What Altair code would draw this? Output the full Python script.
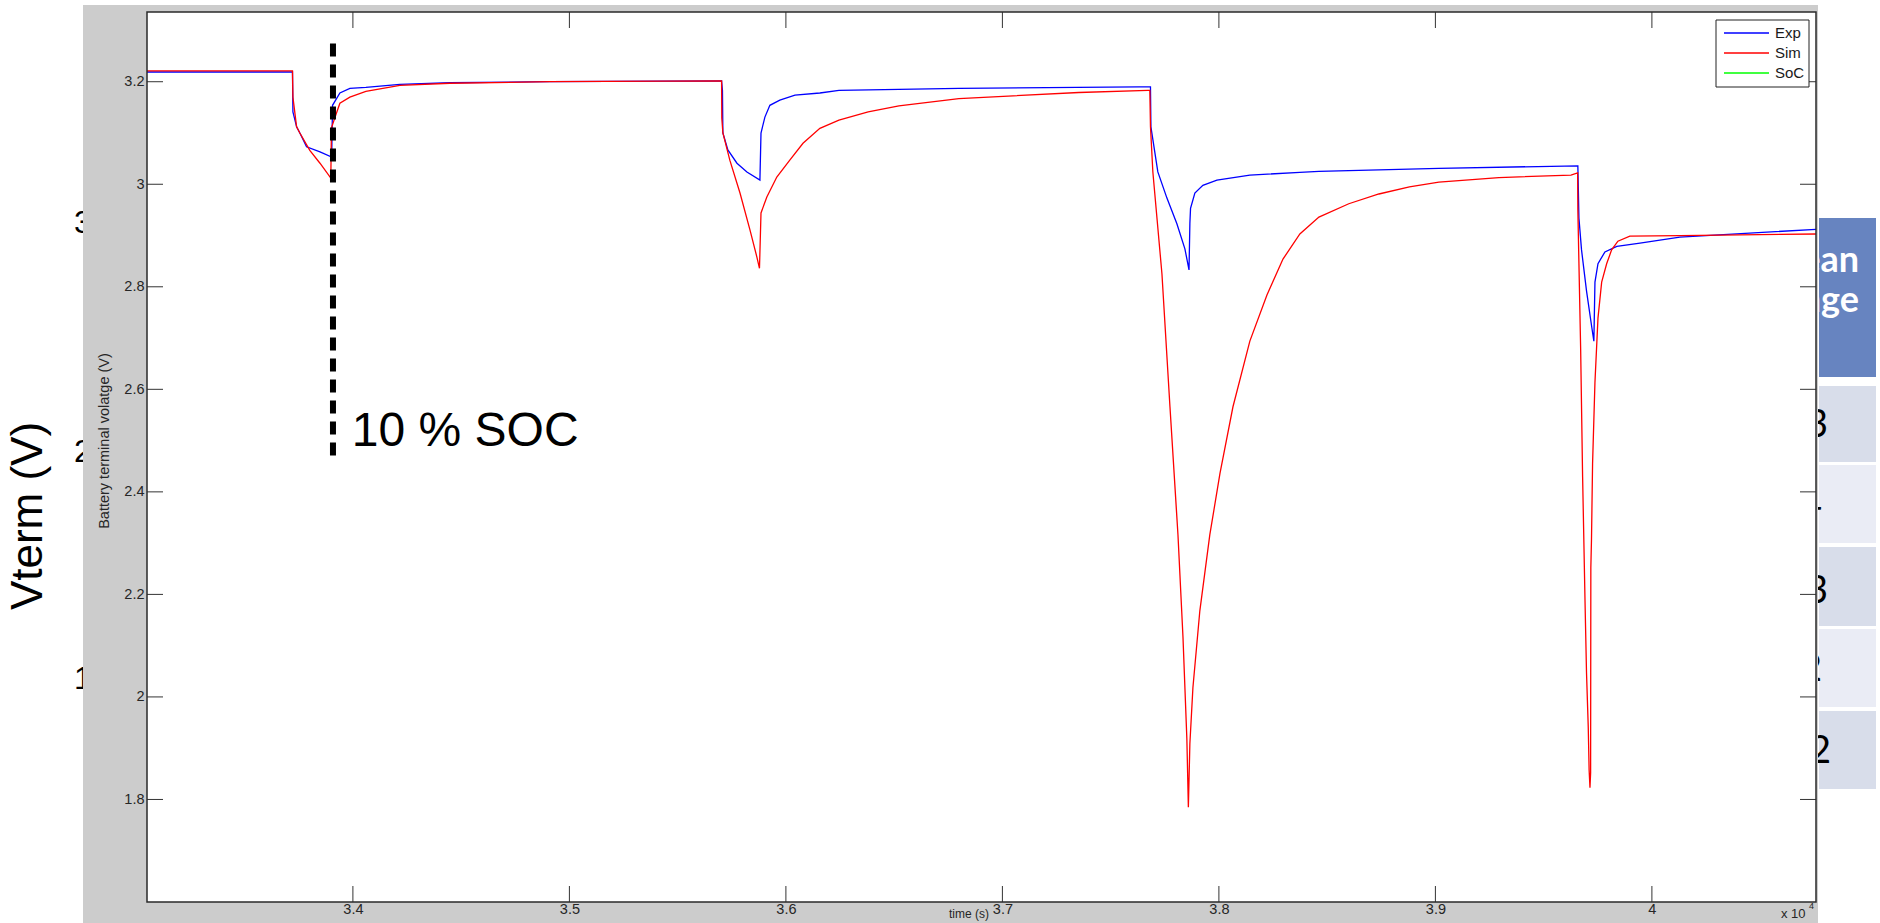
import altair as alt
import pandas as pd

# ---------------- data ----------------
sim_t = [33049, 33721, 33723, 33740, 33755, 33801, 33848, 33898, 33901, 33921,
         33940, 33986, 34060, 34217, 34448, 34910, 35703, 35704, 35709, 35741,
         35788, 35834, 35866, 35878, 35885, 35912, 35958, 36018, 36079, 36157,
         36245, 36380, 36522, 36799, 37353, 37672, 37681, 37684, 37695, 37737,
         37774, 37811, 37834, 37852, 37859, 37866, 37880, 37912, 37958, 38005,
         38065, 38143, 38222, 38296, 38374, 38462, 38600, 38739, 38880, 39016,
         39293, 39626, 39657, 39658, 39671, 39680, 39691, 39698, 39706, 39710,
         39714, 39717, 39718, 39721, 39726, 39737, 39751, 39768, 39791, 39814,
         39843, 39898, 40129, 40758]
sim_v = [3.221, 3.221, 3.170, 3.112, 3.100, 3.066, 3.041, 3.012, 3.110, 3.135,
         3.158, 3.170, 3.181, 3.193, 3.197, 3.200, 3.2015, 3.129, 3.100, 3.047,
         2.983, 2.911, 2.858, 2.836, 2.944, 2.975, 3.014, 3.047, 3.080, 3.109,
         3.125, 3.141, 3.153, 3.167, 3.179, 3.183, 3.183, 3.112, 3.024, 2.825,
         2.566, 2.316, 2.118, 1.919, 1.785, 1.909, 2.018, 2.168, 2.316, 2.436,
         2.566, 2.694, 2.784, 2.854, 2.903, 2.936, 2.962, 2.981, 2.995, 3.004,
         3.013, 3.018, 3.022, 2.951, 2.677, 2.429, 2.189, 2.047, 1.942, 1.858,
         1.823, 1.852, 2.252, 2.307, 2.455, 2.614, 2.739, 2.809, 2.845, 2.872,
         2.889, 2.899, 2.900, 2.903]

exp_t = [33049, 33721, 33723, 33740, 33755, 33786, 33848, 33902, 33906, 33940,
         33986, 34060, 34217, 34448, 34910, 35703, 35707, 35709, 35732, 35774,
         35820, 35880, 35885, 35903, 35926, 35972, 36042, 36157, 36245, 36799,
         37631, 37684, 37686, 37718, 37760, 37806, 37843, 37862, 37866, 37869,
         37889, 37926, 37991, 38143, 38374, 38462, 39016, 39658, 39663, 39675,
         39698, 39722, 39732, 39737, 39751, 39783, 39838, 39945, 40129, 40758]
exp_v = [3.219, 3.219, 3.141, 3.112, 3.100, 3.073, 3.063, 3.053, 3.154, 3.178,
         3.187, 3.189, 3.195, 3.198, 3.200, 3.2015, 3.183, 3.100, 3.067, 3.041,
         3.024, 3.008, 3.100, 3.131, 3.154, 3.164, 3.174, 3.178, 3.183, 3.187,
         3.190, 3.190, 3.112, 3.024, 2.973, 2.923, 2.874, 2.833, 2.924, 2.953,
         2.983, 2.998, 3.008, 3.018, 3.023, 3.025, 3.031, 3.036, 2.934, 2.872,
         2.792, 2.722, 2.694, 2.809, 2.845, 2.868, 2.879, 2.885, 2.897, 2.912]

x_ticks = [34000, 35000, 36000, 37000, 38000, 39000, 40000]
y_ticks = [1.8, 2.0, 2.2, 2.4, 2.6, 2.8, 3.0, 3.2]
x_domain = [33049, 40758]
y_domain = [1.6, 3.336]

series_names = ["Exp", "Sim", "SoC"]
series_colors = ["#0000FF", "#FF0000", "#00FF00"]

soc_marker_t = [33908]
soc_marker_top = [3.290]
soc_marker_bottom = [2.458]
soc_label = ["10 % SOC"]
soc_label_t = [33995]
soc_label_v = [2.490]

slide_digits = ["3", "2", "1"]
table_header = ["Mean", "Voltage"]
table_cells = ["3", "4", "3", "2", "2"]

# ---------------- layout ----------------
W, H = 1669, 890
FONT = "Liberation Sans"
one = pd.DataFrame({"d": [0]})

xs = alt.Scale(domain=x_domain, nice=False, zero=False)
ys = alt.Scale(domain=y_domain, nice=False, zero=False)
xaxis = alt.Axis(values=x_ticks, labelExpr="format(datum.value/10000, '.1~f')",
                 ticks=False, tickSize=0, domain=False, grid=False, title=None,
                 labelFont=FONT, labelFontSize=14.5, labelColor="#262626",
                 labelPadding=0, zindex=1)
yaxis = alt.Axis(values=y_ticks, labelExpr="format(datum.value, '.1~f')",
                 ticks=False, tickSize=0, domain=False, grid=False, title=None,
                 labelFont=FONT, labelFontSize=14.5, labelColor="#262626",
                 labelPadding=3, zindex=1)


def vrect(x, x2, y, y2, **kw):
    return alt.Chart(one).mark_rect(**kw).encode(
        x=alt.value(x), x2=alt.value(x2), y=alt.value(y), y2=alt.value(y2))


def vtext(txt, x, y, **kw):
    return alt.Chart(one).mark_text(text=txt, **kw).encode(
        x=alt.value(x), y=alt.value(y))


def vrule(x, x2, y, y2, **kw):
    return alt.Chart(one).mark_rule(**kw).encode(
        x=alt.value(x), x2=alt.value(x2), y=alt.value(y), y2=alt.value(y2))


layers = []

# slide content peeking out behind the MATLAB figure
for d, yb in zip(slide_digits, [221, 450, 677]):
    layers.append(vtext(d, -73, yb, font=FONT, fontSize=32, align="left",
                        baseline="alphabetic", color="black"))

# table on the right (partly hidden)
layers.append(vrect(1672, 1729, 206, 365, color="#6784C0"))
row_bounds = [(374, 450), (453, 531), (535, 614), (617, 695), (699, 777)]
row_cols = ["#D8DDEA", "#EAECF5", "#D8DDEA", "#EAECF5", "#D8DDEA"]
for (a, b), c in zip(row_bounds, row_cols):
    layers.append(vrect(1672, 1729, a, b, color=c))
layers.append(vtext(table_header[0], 1712, 260, font="Lato", fontSize=36,
                    fontWeight="bold", align="right", baseline="alphabetic",
                    color="white"))
layers.append(vtext(table_header[1], 1712, 300, font="Lato", fontSize=36,
                    fontWeight="bold", align="right", baseline="alphabetic",
                    color="white"))
for txt, xr, yb in zip(table_cells, [1681, 1675, 1681, 1675, 1684],
                       [425, 505, 591, 669, 751]):
    layers.append(vtext(txt, xr, yb, font="Lato", fontSize=38, align="right",
                        baseline="alphabetic", color="black"))

# big slide label
layers.append(vtext("Vterm (V)", -105, 504, font=FONT, fontSize=44, angle=270,
                    align="center", baseline="alphabetic", color="black"))

# grey figure background and white axes area
layers.append(vrect(-64, 1671, -7, 911, color="#CCCCCC"))
layers.append(vrect(0, W, 0, H, color="white"))

# inward ticks on all four sides
ytick_df = pd.DataFrame({"v": y_ticks})
xtick_df = pd.DataFrame({"t": x_ticks})
Y = alt.Y("v:Q", scale=ys, axis=yaxis)
X = alt.X("t:Q", scale=xs, axis=xaxis)
layers.append(alt.Chart(ytick_df).mark_rule(color="#333333", strokeWidth=1)
              .encode(x=alt.value(0), x2=alt.value(16), y=Y))
layers.append(alt.Chart(ytick_df).mark_rule(color="#333333", strokeWidth=1)
              .encode(x=alt.value(W - 16), x2=alt.value(W), y=Y))
layers.append(alt.Chart(xtick_df).mark_rule(color="#333333", strokeWidth=1)
              .encode(y=alt.value(H - 16), y2=alt.value(H), x=X))
layers.append(alt.Chart(xtick_df).mark_rule(color="#333333", strokeWidth=1)
              .encode(y=alt.value(0), y2=alt.value(16), x=X))

# data lines
exp_df = pd.DataFrame({"t": exp_t, "v": exp_v, "i": range(len(exp_t))})
sim_df = pd.DataFrame({"t": sim_t, "v": sim_v, "i": range(len(sim_t))})
layers.append(alt.Chart(exp_df).mark_line(color=series_colors[0], strokeWidth=1.3)
              .encode(x=X, y=Y, order="i:Q"))
layers.append(alt.Chart(sim_df).mark_line(color=series_colors[1], strokeWidth=1.3)
              .encode(x=X, y=Y, order="i:Q"))

# 10 % SOC marker
soc_df = pd.DataFrame({"t": soc_marker_t, "v": soc_marker_top,
                       "v2": soc_marker_bottom})
layers.append(alt.Chart(soc_df).mark_rule(color="black", strokeWidth=6,
                                          strokeDash=[13, 8], strokeDashOffset=13,
                                          strokeCap="butt")
              .encode(x=X, y=Y, y2="v2:Q"))
lab_df = pd.DataFrame({"t": soc_label_t, "v": soc_label_v, "s": soc_label})
layers.append(alt.Chart(lab_df).mark_text(font=FONT, fontSize=48, align="left",
                                          baseline="alphabetic", color="black")
              .encode(x=X, y=Y, text="s:N"))

# axes box
layers.append(vrect(0, W, 0, H, fillOpacity=0, stroke="#2a2a2a", strokeWidth=1.5))

# legend
layers.append(vrect(1569, 1662, 8, 75, color="white", stroke="#222222",
                    strokeWidth=1))
for name, col, yy in zip(series_names, series_colors, [21, 41, 61]):
    layers.append(vrule(1577, 1622, yy, yy, color=col, strokeWidth=1.5))
    layers.append(vtext(name, 1628, yy, font=FONT, fontSize=15, align="left",
                        baseline="middle", color="#1a1a1a"))

# axis titles and multiplier
layers.append(vtext("time (s)", 822, 902, font=FONT, fontSize=12, align="center",
                    baseline="middle", color="#262626"))
layers.append(vtext("Battery terminal volatge (V)", -42, 429, font=FONT,
                    fontSize=14.5, angle=270, align="center", baseline="middle",
                    color="#262626"))
layers.append(vtext("x 10", 1634, 906, font=FONT, fontSize=13, align="left",
                    baseline="alphabetic", color="#262626"))
layers.append(vtext("4", 1662, 897, font=FONT, fontSize=9, align="left",
                    baseline="alphabetic", color="#262626"))

chart = alt.layer(*layers).properties(
    width=W, height=H,
    autosize=alt.AutoSizeParams(type="none"),
    padding={"left": 147, "top": 12, "right": 64, "bottom": 21},
).configure(background="white").configure_view(strokeWidth=0)

chart.save("out.html", embed_options={"renderer": "svg", "actions": False})
